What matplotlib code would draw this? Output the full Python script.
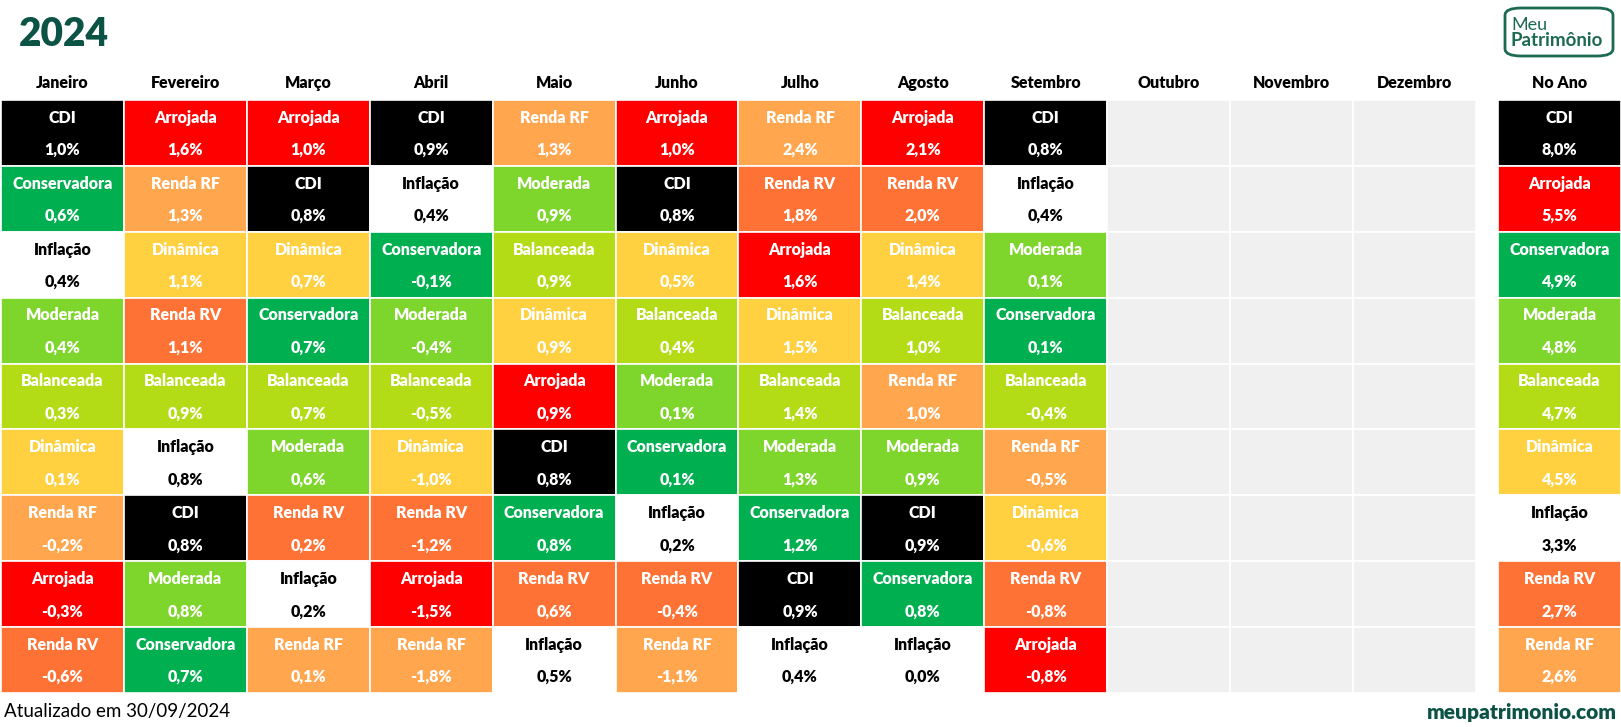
import matplotlib
matplotlib.use("Agg")
import matplotlib.pyplot as plt
from matplotlib.patches import Rectangle, FancyBboxPatch

plt.rcParams['font.family'] = ['Lato', 'DejaVu Sans']

months = ['Janeiro', 'Fevereiro', 'Março', 'Abril', 'Maio', 'Junho', 'Julho',
          'Agosto', 'Setembro', 'Outubro', 'Novembro', 'Dezembro']

# ranking per month, best at top
jan = [('CDI', 1.0), ('Conservadora', 0.6), ('Inflação', 0.4), ('Moderada', 0.4), ('Balanceada', 0.3),
       ('Dinâmica', 0.1), ('Renda RF', -0.2), ('Arrojada', -0.3), ('Renda RV', -0.6)]
fev = [('Arrojada', 1.6), ('Renda RF', 1.3), ('Dinâmica', 1.1), ('Renda RV', 1.1), ('Balanceada', 0.9),
       ('Inflação', 0.8), ('CDI', 0.8), ('Moderada', 0.8), ('Conservadora', 0.7)]
mar = [('Arrojada', 1.0), ('CDI', 0.8), ('Dinâmica', 0.7), ('Conservadora', 0.7), ('Balanceada', 0.7),
       ('Moderada', 0.6), ('Renda RV', 0.2), ('Inflação', 0.2), ('Renda RF', 0.1)]
abr = [('CDI', 0.9), ('Inflação', 0.4), ('Conservadora', -0.1), ('Moderada', -0.4), ('Balanceada', -0.5),
       ('Dinâmica', -1.0), ('Renda RV', -1.2), ('Arrojada', -1.5), ('Renda RF', -1.8)]
mai = [('Renda RF', 1.3), ('Moderada', 0.9), ('Balanceada', 0.9), ('Dinâmica', 0.9), ('Arrojada', 0.9),
       ('CDI', 0.8), ('Conservadora', 0.8), ('Renda RV', 0.6), ('Inflação', 0.5)]
jun = [('Arrojada', 1.0), ('CDI', 0.8), ('Dinâmica', 0.5), ('Balanceada', 0.4), ('Moderada', 0.1),
       ('Conservadora', 0.1), ('Inflação', 0.2), ('Renda RV', -0.4), ('Renda RF', -1.1)]
jul = [('Renda RF', 2.4), ('Renda RV', 1.8), ('Arrojada', 1.6), ('Dinâmica', 1.5), ('Balanceada', 1.4),
       ('Moderada', 1.3), ('Conservadora', 1.2), ('CDI', 0.9), ('Inflação', 0.4)]
ago = [('Arrojada', 2.1), ('Renda RV', 2.0), ('Dinâmica', 1.4), ('Balanceada', 1.0), ('Renda RF', 1.0),
       ('Moderada', 0.9), ('CDI', 0.9), ('Conservadora', 0.8), ('Inflação', 0.0)]
setb = [('CDI', 0.8), ('Inflação', 0.4), ('Moderada', 0.1), ('Conservadora', 0.1), ('Balanceada', -0.4),
        ('Renda RF', -0.5), ('Dinâmica', -0.6), ('Renda RV', -0.8), ('Arrojada', -0.8)]
no_ano = [('CDI', 8.0), ('Arrojada', 5.5), ('Conservadora', 4.9), ('Moderada', 4.8), ('Balanceada', 4.7),
          ('Dinâmica', 4.5), ('Inflação', 3.3), ('Renda RV', 2.7), ('Renda RF', 2.6)]

month_data = [jan, fev, mar, abr, mai, jun, jul, ago, setb]

colors = {
    'CDI': '#000000',
    'Arrojada': '#FF0000',
    'Renda RF': '#FFA64F',
    'Renda RV': '#FF7236',
    'Conservadora': '#00B050',
    'Moderada': '#7ED52B',
    'Balanceada': '#B4DC16',
    'Dinâmica': '#FFD03F',
    'Inflação': '#FFFFFF',
}
green = '#0B5345'
logo_green = '#1D6B4F'
n_rows = 9
year_col = 12.18
fs = 11.5

fig = plt.figure(figsize=(16.21, 7.27), dpi=100)
ax = fig.add_axes([1 / 1621, 1 - 693 / 727, 1620 / 1621, 593 / 727])
ax.set_xlim(0, year_col + 1)
ax.set_ylim(n_rows, 0)
ax.axis('off')


def draw_cell(x, y, name, val):
    fc = colors[name]
    tc = 'black' if name == 'Inflação' else 'white'
    ax.add_patch(Rectangle((x, y), 1, 1, facecolor=fc, edgecolor='white', lw=1.2))
    ax.text(x + 0.5, y + 0.27, name, ha='center', va='center', color=tc,
            fontsize=fs, fontweight='heavy')
    ax.text(x + 0.5, y + 0.76, f'{val:.1f}%'.replace('.', ','), ha='center', va='center',
            color=tc, fontsize=fs, fontweight='heavy')


for i, m in enumerate(months):
    ax.text(i + 0.5, -0.26, m, ha='center', va='center', fontsize=fs, fontweight='heavy',
            clip_on=False)
    if i < len(month_data):
        for j, (name, val) in enumerate(month_data[i]):
            draw_cell(i, j, name, val)
    else:
        for j in range(n_rows):
            ax.add_patch(Rectangle((i, j), 1, 1, facecolor='#F0F0F0', edgecolor='white', lw=1.2))

ax.text(year_col + 0.5, -0.26, 'No Ano', ha='center', va='center', fontsize=fs,
        fontweight='heavy', clip_on=False)
for j, (name, val) in enumerate(no_ano):
    draw_cell(year_col, j, name, val)

# title, footer, logo
fig.text(19 / 1621, 1 - 35 / 727, '2024', fontsize=28, fontweight='heavy', color=green,
         ha='left', va='center')
fig.text(4 / 1621, 1 - 711 / 727, 'Atualizado em 30/09/2024', fontsize=13.5, ha='left', va='center')
fig.text(1617 / 1621, 1 - 712 / 727, 'meupatrimonio.com', fontsize=15, fontweight='heavy',
         color=green, ha='right', va='center')

logo = FancyBboxPatch((1505 / 1621, 1 - 56 / 727), 108 / 1621, 48 / 727,
                      boxstyle='round,pad=0,rounding_size=0.01', transform=fig.transFigure,
                      facecolor='white', edgecolor=logo_green, lw=2)
fig.patches.append(logo)
fig.text(1511 / 1621, 1 - 25 / 727, 'Meu', fontsize=13, color=logo_green, ha='left', va='center')
fig.text(1510 / 1621, 1 - 41 / 727, 'Patrimônio', fontsize=13.5, fontweight='bold', color=logo_green,
         ha='left', va='center')

fig.savefig('out.png', dpi=100)
